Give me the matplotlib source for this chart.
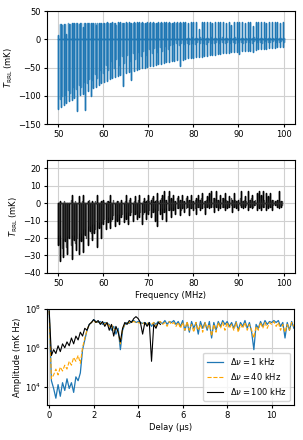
import numpy as np
import matplotlib
matplotlib.use('Agg')
import matplotlib.pyplot as plt
from matplotlib.ticker import FixedLocator, NullLocator

# ---- panel 1: RRL spectrum, 1 kHz channels (mK) ----
freq_main = [50.0, 50.6, 51.2, 51.8, 52.4, 53.0, 53.6, 54.2, 54.8, 55.4,
             56.0, 56.6, 57.2, 57.8, 58.4, 59.0, 59.6, 60.2, 60.8, 61.4,
             62.0, 62.6, 63.2, 63.8, 64.4, 65.0, 65.6, 66.2, 66.8, 67.4,
             68.0, 68.6, 69.2, 69.8, 70.4, 71.0, 71.6, 72.2, 72.8, 73.4,
             74.0, 74.6, 75.2, 75.8, 76.4, 77.0, 77.6, 78.2, 78.8, 79.4,
             80.0, 80.6, 81.2, 81.8, 82.4, 83.0, 83.6, 84.2, 84.8, 85.4,
             86.0, 86.6, 87.2, 87.8, 88.4, 89.0, 89.6, 90.2, 90.8, 91.4,
             92.0, 92.6, 93.2, 93.8, 94.4, 95.0, 95.6, 96.2, 96.8, 97.4,
             98.0, 98.6, 99.2, 99.8]
top_main = [8, 27, 27, 10, 27, 28, 28, 28, 29, 22,
            29, 28, 29, 29, 25, 29, 29, 29, 30, 29,
            30, 29, 30, 30, 29, 30, 30, 29, 30, 30,
            30, 30, 29, 30, 30, 30, 29, 30, 30, 30,
            30, 30, 29, 30, 30, 30, 30, 30, 29, 30,
            30, 30, 18, 30, 30, 30, 30, 29, 30, 30,
            30, 30, 29, 30, 25, 30, 30, 30, 30, 29,
            30, 30, 24, 30, 30, 30, 30, 29, 30, 30,
            30, 30, 29, 30]
bot_main = [-123, -120, -116, -113, -110, -107, -104, -127, -99, -96,
            -125, -92, -100, -86, -84, -81, -78, -75, -73, -71,
            -69, -67, -65, -63, -82, -60, -58, -72, -56, -54,
            -53, -51, -50, -49, -48, -47, -45, -44, -43, -42,
            -41, -40, -39, -38, -37, -48, -36, -35, -34, -34,
            -33, -32, -31, -31, -30, -29, -28, -28, -27, -26,
            -26, -25, -24, -24, -23, -23, -22, -26, -21, -21,
            -20, -20, -22, -19, -18, -18, -17, -17, -16, -15,
            -15, -14, -14, -13]
# in-between channels (offset by half a spike spacing)
top_mid = [27, 26, 27, 28, 27, 28, 28, 27, 28, 28,
           29, 28, 28, 29, 28, 29, 28, 29, 29, 28,
           29, 25, 29, 28, 29, 29, 28, 29, 29, 28,
           29, 29, 28, 29, 29, 28, 29, 29, 28, 29,
           29, 28, 29, 28, 29, 28, 29, 3, 2, 4,
           3, 2, 4, 3, 2, 3, 4, 2, 3, 2,
           4, 3, 2, 3, 2, 4, 3, 2, 3, 2,
           3, 2, 4, 3, 2, 3, 2, 3, 2, 3,
           2, 3, 2, 2]
bot_mid = [-105, -100, -98, -90, -95, -85, -88, -80, -84, -75,
           -78, -70, -72, -62, -68, -55, -60, -45, -55, -38,
           -50, -35, -45, -30, -42, -28, -38, -25, -35, -22,
           -30, -20, -28, -18, -25, -15, -22, -13, -20, -12,
           -18, -10, -9, -7, -10, -6, -8, -7, -9, -6,
           -8, -5, -7, -6, -8, -5, -7, -6, -5, -7,
           -4, -6, -5, -7, -4, -6, -5, -4, -6, -5,
           -4, -6, -3, -5, -4, -6, -3, -5, -4, -3,
           -5, -4, -3, -4]

# ---- panel 2: RRL spectrum, 100 kHz channels (mK) ----
freq_coarse = [50.0, 50.5, 51.0, 51.5, 52.0, 52.5, 53.0, 53.5, 54.0, 54.5,
               55.0, 55.5, 56.0, 56.5, 57.0, 57.5, 58.0, 58.5, 59.0, 59.5,
               60.0, 60.5, 61.0, 61.5, 62.0, 62.5, 63.0, 63.5, 64.0, 64.5,
               65.0, 65.5, 66.0, 66.5, 67.0, 67.5, 68.0, 68.5, 69.0, 69.5,
               70.0, 70.5, 71.0, 71.5, 72.0, 72.5, 73.0, 73.5, 74.0, 74.5,
               75.0, 75.5, 76.0, 76.5, 77.0, 77.5, 78.0, 78.5, 79.0, 79.5,
               80.0, 80.5, 81.0, 81.5, 82.0, 82.5, 83.0, 83.5, 84.0, 84.5,
               85.0, 85.5, 86.0, 86.5, 87.0, 87.5, 88.0, 88.5, 89.0, 89.5,
               90.0, 90.5, 91.0, 91.5, 92.0, 92.5, 93.0, 93.5, 94.0, 94.5,
               95.0, 95.5, 96.0, 96.5, 97.0, 97.5, 98.0, 98.5, 99.0, 99.5]
top_coarse = [-5, 1, 0, 0, -1, 0, 5, 0, 0, 4,
              0, 5, 0, 1, 0, 1, 0, 5, 0, 1,
              2, 0, 1, 5, 0, 0, 1, 0, 2, 0,
              5, 0, 3, 0, 4, 0, 5, 0, 3, 1,
              5, 2, 4, 1, 6, 2, 5, 7, 2, 7,
              3, 5, 1, 4, 2, 5, 1, 4, 2, 5,
              1, 3, 5, 2, 6, 1, 4, 6, 7, 3,
              7, 2, 5, 3, 6, 1, 4, 2, 6, 1,
              2, 7, 1, 4, 7, 2, 5, 1, 6, 7,
              5, 7, 6, 4, 6, 2, 1, 2, 7, 1]
bot_coarse = [-24, -33, -31, -22, -29, -20, -32, -21, -27, -29,
              -22, -28, -18, -24, -16, -21, -17, -25, -14, -20,
              -12, -15, -11, -14, -9, -13, -10, -12, -8, -11,
              -9, -12, -7, -10, -6, -9, -8, -12, -5, -9,
              -6, -8, -5, -10, -13, -6, -9, -5, -10, -4,
              -8, -4, -6, -3, -7, -3, -5, -2, -7, -3,
              -4, -6, -2, -4, -3, -6, -2, -3, -2, -5,
              -2, -4, -3, -2, -4, -3, -2, -5, -2, -3,
              -4, -2, -3, -2, -4, -2, -3, -1, -4, -3,
              -4, -2, -4, -3, -2, -4, -1, -2, -3, -2]
# in-between 100 kHz channels (smaller excursions)
top_coarse_mid = [0, 0, 1, 0, 0, 2, 0, 1, 0, 0,
                  1, 0, 0, 2, 0, 0, 1, 0, 0, 1,
                  0, 1, 0, 0, 2, 0, 1, 0, 0, 1,
                  0, 2, 0, 1, 0, 2, 0, 1, 0, 2,
                  1, 3, 0, 2, 1, 3, 1, 2, 4, 1,
                  2, 1, 3, 1, 2, 1, 3, 1, 2, 1,
                  2, 1, 2, 3, 1, 2, 1, 2, 3, 1,
                  2, 1, 3, 1, 2, 1, 3, 1, 2, 1,
                  3, 1, 2, 1, 2, 3, 1, 2, 1, 3,
                  1, 2, 1, 3, 1, 2, 1, 2, 1, 1]
bot_coarse_mid = [-18, -26, -20, -25, -19, -24, -18, -23, -20, -17,
                  -19, -15, -20, -13, -17, -12, -15, -11, -13, -10,
                  -9, -11, -8, -10, -7, -9, -6, -8, -6, -7,
                  -5, -7, -5, -6, -4, -7, -5, -6, -4, -5,
                  -4, -5, -3, -6, -4, -3, -5, -3, -4, -2,
                  -4, -2, -3, -2, -4, -2, -3, -2, -3, -2,
                  -3, -2, -2, -3, -2, -2, -1, -2, -2, -1,
                  -2, -1, -2, -2, -1, -2, -1, -2, -1, -2,
                  -1, -2, -1, -1, -2, -1, -2, -1, -1, -2,
                  -1, -2, -1, -1, -2, -1, -1, -2, -1, -1]

# ---- panel 3: delay spectra, log10(amplitude / mK Hz) ----
delay = [0.0, 0.1, 0.2, 0.3, 0.4, 0.5, 0.6, 0.7, 0.8, 0.9,
         1.0, 1.1, 1.2, 1.3, 1.4, 1.5, 1.6, 1.7, 1.8, 1.9,
         2.0, 2.1, 2.2, 2.3, 2.4, 2.5, 2.6, 2.7, 2.8, 2.9,
         3.0, 3.1, 3.2, 3.3, 3.4, 3.5, 3.6, 3.7, 3.8, 3.9,
         4.0, 4.1, 4.2, 4.3, 4.4, 4.5, 4.6, 4.7, 4.8, 4.9,
         5.0, 5.1, 5.2, 5.3, 5.4, 5.5, 5.6, 5.7, 5.8, 5.9,
         6.0, 6.1, 6.2, 6.3, 6.4, 6.5, 6.6, 6.7, 6.8, 6.9,
         7.0, 7.1, 7.2, 7.3, 7.4, 7.5, 7.6, 7.7, 7.8, 7.9,
         8.0, 8.1, 8.2, 8.3, 8.4, 8.5, 8.6, 8.7, 8.8, 8.9,
         9.0, 9.1, 9.2, 9.3, 9.4, 9.5, 9.6, 9.7, 9.8, 9.9,
         10.0, 10.1, 10.2, 10.3, 10.4, 10.5, 10.6, 10.7, 10.8, 10.9,
         11.0]
log_amp_1k = [7.9, 4.3, 3.9, 3.4, 4.1, 3.5, 4.2, 3.8, 4.4, 3.9,
              4.2, 3.7, 4.5, 4.3, 4.7, 5.9, 6.4, 6.9, 7.2, 7.3,
              7.45, 7.35, 7.3, 7.35, 7.2, 7.3, 7.25, 7.2, 6.9, 7.1,
              6.7, 7.0, 5.9, 6.9, 7.2, 7.3, 7.25, 7.35, 7.4, 7.3,
              7.35, 7.3, 7.25, 7.3, 7.2, 7.3, 7.1, 7.3, 7.2, 7.35,
              7.3, 7.25, 7.4, 7.2, 7.35, 7.3, 7.4, 7.2, 7.35, 7.1,
              7.4, 6.9, 7.3, 6.8, 7.35, 7.0, 7.3, 6.7, 7.35, 7.0,
              7.3, 6.9, 7.35, 6.5, 7.3, 6.9, 7.35, 7.1, 7.4, 7.2,
              7.35, 7.1, 7.3, 7.0, 7.35, 6.9, 7.3, 7.1, 7.4, 7.0,
              7.3, 6.8, 5.9, 7.2, 7.0, 7.35, 7.1, 7.4, 7.2, 7.35,
              7.3, 7.4, 7.3, 7.4, 7.1, 7.3, 6.5, 7.3, 6.9, 7.35,
              7.0]
log_amp_40k = [7.9, 4.4, 4.6, 4.9, 4.6, 5.0, 4.8, 5.1, 4.9, 5.3,
               5.1, 5.5, 5.3, 5.6, 5.2, 6.0, 6.5, 6.9, 7.2, 7.3,
               7.4, 7.3, 7.35, 7.25, 7.3, 7.2, 7.3, 7.1, 7.2, 6.9,
               7.0, 6.8, 6.2, 7.0, 7.2, 7.25, 7.3, 7.3, 7.35, 7.3,
               7.3, 7.25, 7.3, 7.2, 7.3, 7.15, 7.2, 7.3, 7.1, 7.3,
               7.35, 7.2, 7.3, 7.1, 7.35, 7.2, 7.3, 7.1, 7.3, 7.0,
               7.3, 6.9, 7.35, 6.9, 7.2, 6.8, 7.3, 6.9, 7.2, 6.8,
               7.3, 7.0, 7.2, 6.6, 7.2, 6.8, 7.3, 7.0, 7.3, 6.9,
               7.3, 7.0, 7.2, 6.9, 7.3, 6.8, 7.2, 7.0, 7.3, 6.9,
               7.2, 6.9, 6.5, 7.1, 6.9, 7.3, 7.0, 7.3, 7.0, 7.3,
               7.2, 7.35, 7.1, 7.3, 6.9, 7.2, 6.8, 7.2, 6.9, 7.3,
               7.1]
delay_100k = [0.0, 0.1, 0.2, 0.3, 0.4, 0.5, 0.6, 0.7, 0.8, 0.9,
              1.0, 1.1, 1.2, 1.3, 1.4, 1.5, 1.6, 1.7, 1.8, 1.9,
              2.0, 2.1, 2.2, 2.3, 2.4, 2.5, 2.6, 2.7, 2.8, 2.9,
              3.0, 3.1, 3.2, 3.3, 3.4, 3.5, 3.6, 3.7, 3.8, 3.9,
              4.0, 4.1, 4.2, 4.3, 4.4, 4.5, 4.6, 4.7, 4.8, 4.9,
              5.0]
log_amp_100k = [7.9, 5.6, 5.9, 5.7, 6.1, 5.8, 6.2, 6.0, 6.3, 6.1,
                6.5, 6.2, 6.6, 6.4, 6.8, 6.6, 7.0, 6.9, 7.2, 7.3,
                7.45, 7.3, 7.4, 7.2, 7.35, 7.1, 7.3, 6.9, 7.2, 6.6,
                7.1, 6.8, 6.3, 7.0, 7.3, 7.2, 7.4, 7.3, 7.5, 7.6,
                7.5, 7.3, 6.7, 7.3, 7.1, 7.3, 5.3, 7.2, 7.0, 7.3,
                7.2]


def spike_path(freqs, tops, bots):
    xs, ys = [], []
    for f, t, b in zip(freqs, tops, bots):
        xs += [f, f, f, f]
        ys += [0, t, b, 0]
    return xs, ys


plt.rcParams['font.size'] = 6
plt.rcParams['xtick.major.size'] = 2.5
plt.rcParams['ytick.major.size'] = 2.5
plt.rcParams['xtick.major.pad'] = 2
plt.rcParams['ytick.major.pad'] = 2
fig = plt.figure(figsize=(3.03, 4.4), dpi=100)
ax1 = fig.add_axes([0.155, 0.718, 0.818, 0.257])
ax2 = fig.add_axes([0.155, 0.380, 0.818, 0.257])
ax3 = fig.add_axes([0.155, 0.080, 0.815, 0.218])

blue = '#1f77b4'

# top panel
x, y = spike_path(freq_main, top_main, bot_main)
ax1.plot(x, y, color=blue, lw=1.0)
x, y = spike_path(np.array(freq_main) + 0.3, top_mid, bot_mid)
ax1.plot(x, y, color=blue, lw=1.0, alpha=0.75)
ax1.set_ylim(-150, 50)
ax1.set_xlim(47.5, 102.5)
ax1.set_yticks([-150, -100, -50, 0, 50])
ax1.set_xticks([50, 60, 70, 80, 90, 100])
ax1.set_ylabel(r'$T_{\rm RRL}$ (mK)', labelpad=2)
ax1.grid(True, color='#d0d0d0', lw=0.8)
ax1.set_axisbelow(True)

# middle panel
x, y = spike_path(freq_coarse, top_coarse, bot_coarse)
ax2.plot(x, y, color='k', lw=1.0)
x, y = spike_path(np.array(freq_coarse) + 0.25, top_coarse_mid, bot_coarse_mid)
ax2.plot(x, y, color='#333333', lw=0.9, alpha=0.85)
ax2.set_ylim(-40, 25)
ax2.set_xlim(47.5, 102.5)
ax2.set_yticks([-40, -30, -20, -10, 0, 10, 20])
ax2.set_xticks([50, 60, 70, 80, 90, 100])
ax2.set_ylabel(r'$T_{\rm RRL}$ (mK)', labelpad=2)
ax2.set_xlabel('Frequency (MHz)', labelpad=2)
ax2.grid(True, color='#d0d0d0', lw=0.8)
ax2.set_axisbelow(True)

# bottom panel
ax3.plot(delay, 10 ** np.array(log_amp_1k), color=blue, lw=0.9,
         label=r'$\Delta\nu = 1$ kHz')
ax3.plot(delay, 10 ** np.array(log_amp_40k), color='orange', lw=0.8,
         ls='--', label=r'$\Delta\nu = 40$ kHz')
ax3.plot(delay_100k, 10 ** np.array(log_amp_100k), color='k', lw=0.8,
         label=r'$\Delta\nu = 100$ kHz')
ax3.set_yscale('log')
ax3.set_ylim(1.15e3, 1e8)
ax3.set_xlim(-0.1, 11)
ax3.yaxis.set_major_locator(FixedLocator([1e4, 1e6, 1e8]))
ax3.yaxis.set_minor_locator(NullLocator())
ax3.set_xticks([0, 2, 4, 6, 8, 10])
ax3.set_xlabel('Delay (\u03bcs)', labelpad=2)
ax3.set_ylabel('Amplitude (mK Hz)', labelpad=2)
ax3.grid(True, color='#d0d0d0', lw=0.8)
ax3.legend(loc='lower right', fontsize=6)

fig.savefig('out.png', dpi=100)
